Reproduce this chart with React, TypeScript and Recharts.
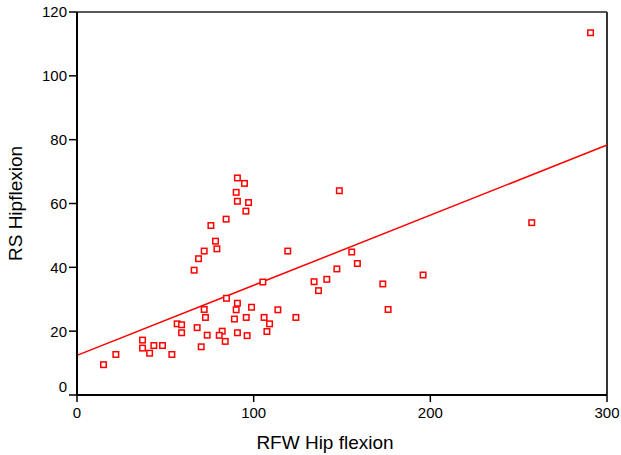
import {
  ReferenceLine,
  Scatter,
  ScatterChart,
  XAxis,
  YAxis,
} from 'recharts'

// RFW Hip flexion (x) vs RS Hipflexion (y)
const rfwHip = [
  15.0, 22.0, 37.1, 37.1, 41.1, 43.5, 48.4, 53.7, 56.7, 59.2,
  59.2, 66.3, 68.8, 72.0, 75.8, 78.4, 79.2, 84.4, 68.0, 70.3,
  72.0, 72.7, 73.7, 82.2, 80.5, 83.9, 84.6, 89.1, 90.1, 90.8,
  90.8, 95.8, 96.3, 98.8, 105.2, 105.9, 107.5, 109.0, 113.7, 119.3,
  123.9, 134.2, 136.7, 90.8, 94.8, 90.1, 90.8, 97.1, 95.6, 141.4,
  147.1, 155.5, 158.7, 173.1, 176.1, 195.9, 257.4, 148.5, 290.7,
]
const rsHip = [
  9.5, 12.7, 17.2, 14.7, 13.1, 15.5, 15.5, 12.7, 22.3, 22.0,
  19.5, 39.1, 42.7, 45.1, 53.1, 48.2, 45.8, 55.1, 21.1, 15.1,
  26.8, 24.3, 18.75, 20.0, 18.7, 16.8, 30.3, 23.8, 26.7, 28.75,
  19.5, 24.3, 18.6, 27.5, 35.4, 24.3, 19.9, 22.3, 26.7, 45.1,
  24.3, 35.5, 32.7, 68.0, 66.3, 63.5, 60.7, 60.3, 57.6, 36.25,
  39.5, 44.8, 41.2, 34.8, 26.8, 37.6, 54.0, 64.0, 113.5,
]

// fit line (linear regression as drawn)
const fitIntercept = 12.4
const fitSlope = 0.2197

const xTicks = [0, 100, 200, 300]
const yTicks = [0, 20, 40, 60, 80, 100, 120]

const ROT = '#ff0000'
const FONT = '"Liberation Sans", Arial, sans-serif'

const punkte = rfwHip.map((x, i) => ({ x, y: rsHip[i] }))

// hollow square marker
function Quadrat(props: any) {
  const { cx, cy } = props
  if (cx == null || cy == null) return null
  return (
    <rect
      x={cx - 2.75}
      y={cy - 2.75}
      width={5.5}
      height={5.5}
      fill="#fff"
      stroke={ROT}
      strokeWidth={1.5}
    />
  )
}

// y tick: "0" sits a bit above the axis like in the original
function YTick(props: any) {
  const { x, y, payload } = props
  const dy = payload.value === 0 ? -8 : 0
  return (
    <text
      x={x}
      y={y + dy}
      dy="0.36em"
      textAnchor="end"
      fontSize={15}
      fontFamily={FONT}
      fill="#000"
    >
      {payload.value}
    </text>
  )
}

// x title is a little left of the plot centre in the original
function XTitel(props: any) {
  const { viewBox } = props
  if (!viewBox) return null
  const cx = viewBox.x + viewBox.width / 2 - 17
  return (
    <text x={cx} y={449} textAnchor="middle" fontSize={19} fontFamily={FONT} fill="#000">
      RFW Hip flexion
    </text>
  )
}

export default function App() {
  const xMax = xTicks[xTicks.length - 1]
  return (
    <div style={{ position: 'absolute', left: 0, top: 0, background: '#fff' }}>
      <ScatterChart
        width={621}
        height={455}
        margin={{ top: 12, right: 14, left: 17, bottom: 0 }}
        style={{ fontFamily: FONT }}
      >
        <XAxis
          type="number"
          dataKey="x"
          domain={[0, xMax]}
          ticks={xTicks}
          height={60}
          axisLine={{ stroke: '#000', strokeWidth: 2 }}
          tickLine={{ stroke: '#000', strokeWidth: 1.5 }}
          tickSize={7}
          tickMargin={5}
          tick={{ fontSize: 15, fill: '#000', fontFamily: FONT }}
          label={<XTitel />}
        />
        <YAxis
          type="number"
          dataKey="y"
          domain={[0, 120]}
          ticks={yTicks}
          width={60}
          axisLine={{ stroke: '#000', strokeWidth: 2 }}
          tickLine={{ stroke: '#000', strokeWidth: 1.5 }}
          tickSize={8}
          tickMargin={2}
          tick={<YTick />}
          label={{
            value: 'RS Hipflexion',
            angle: -90,
            position: 'insideLeft',
            offset: -2,
            style: { fontSize: 19, fill: '#000', fontFamily: FONT, textAnchor: 'middle' },
          }}
        />
        {/* frame */}
        <ReferenceLine y={120} stroke="#222" strokeWidth={1.5} />
        <ReferenceLine x={xMax} stroke="#333" strokeWidth={2} />
        <ReferenceLine
          segment={[
            { x: 0, y: fitIntercept },
            { x: xMax, y: fitIntercept + fitSlope * xMax },
          ]}
          stroke={ROT}
          strokeWidth={1.5}
        />
        <Scatter data={punkte} shape={<Quadrat />} isAnimationActive={false} />
      </ScatterChart>
    </div>
  )
}
